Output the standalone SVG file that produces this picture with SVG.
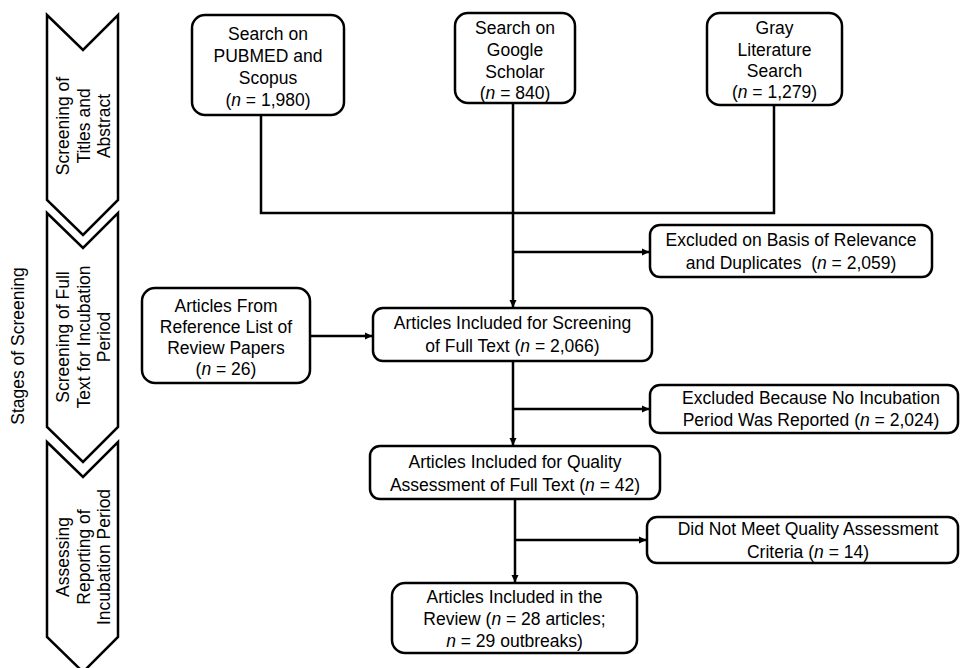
<svg xmlns="http://www.w3.org/2000/svg" width="960" height="668" viewBox="0 0 960 668">
<style>
.box{fill:#fff;stroke:#000;stroke-width:2.5}
.chev{fill:#fff;stroke:#000;stroke-width:2.5;stroke-linejoin:miter}
.t{font-family:"Liberation Sans",Arial,sans-serif;font-size:17.5px;fill:#000;text-anchor:middle}
.c{fill:none;stroke:#000;stroke-width:2.5}
</style>
<defs>
<marker id="ah" markerWidth="8" markerHeight="8" refX="7" refY="4" orient="auto" markerUnits="userSpaceOnUse">
<path d="M0,0.5 L7.5,4 L0,7.5 z" fill="#000"/>
</marker>
</defs>
<rect width="960" height="668" fill="#fff"/>

<g id="stages-label">
<text class="t" transform="translate(24,346) rotate(-90)" x="0" y="0">Stages of Screening</text>
</g>

<g id="stage1">
<polygon class="chev" points="47,15 83,50 118,15 118,200 83,235 47,200"/>
<g transform="translate(83,126) rotate(-90)">
<text class="t" x="0" y="-14">Screening of</text>
<text class="t" x="0" y="7">Titles and</text>
<text class="t" x="0" y="27">Abstract</text>
</g>
</g>

<g id="stage2">
<polygon class="chev" points="47,213 83,248 118,213 118,427 83,462 47,427"/>
<g transform="translate(83,337) rotate(-90)">
<text class="t" x="0" y="-14">Screening of Full</text>
<text class="t" x="0" y="7">Text for Incubation</text>
<text class="t" x="0" y="27">Period</text>
</g>
</g>

<g id="stage3">
<polygon class="chev" points="47,442 83,477 118,442 118,637 83,672 47,637"/>
<g transform="translate(83,557) rotate(-90)">
<text class="t" x="0" y="-14">Assessing</text>
<text class="t" x="0" y="7">Reporting of</text>
<text class="t" x="0" y="27">Incubation Period</text>
</g>
</g>

<g id="connectors">
<path class="c" d="M261,115 V213 H774 V105"/>
<path class="c" d="M513,103 V307" marker-end="url(#ah)"/>
<path class="c" d="M513,252 H649" marker-end="url(#ah)"/>
<path class="c" d="M310,336 H372" marker-end="url(#ah)"/>
<path class="c" d="M513,361 V445" marker-end="url(#ah)"/>
<path class="c" d="M513,409 H649" marker-end="url(#ah)"/>
<path class="c" d="M515,499 V582" marker-end="url(#ah)"/>
<path class="c" d="M515,540 H646" marker-end="url(#ah)"/>
</g>

<g id="pubmed">
<rect class="box" x="192" y="15" width="152" height="100" rx="13"/>
<text class="t" x="268" y="40">Search on</text>
<text class="t" x="268" y="62">PUBMED and</text>
<text class="t" x="268" y="84">Scopus</text>
<text class="t" x="268" y="106">(<tspan font-style="italic">n</tspan> = 1,980)</text>
</g>

<g id="google">
<rect class="box" x="455" y="13" width="120" height="90" rx="13"/>
<text class="t" x="515" y="34">Search on</text>
<text class="t" x="515" y="56">Google</text>
<text class="t" x="515" y="78">Scholar</text>
<text class="t" x="515" y="99">(<tspan font-style="italic">n</tspan> = 840)</text>
</g>

<g id="gray">
<rect class="box" x="707" y="13" width="135" height="92" rx="13"/>
<text class="t" x="774.5" y="34">Gray</text>
<text class="t" x="774.5" y="56">Literature</text>
<text class="t" x="774.5" y="77">Search</text>
<text class="t" x="774.5" y="98">(<tspan font-style="italic">n</tspan> = 1,279)</text>
</g>

<g id="excluded1">
<rect class="box" x="650" y="225" width="282" height="52" rx="10"/>
<text class="t" x="791" y="246">Excluded on Basis of Relevance</text>
<text class="t" x="791" y="269">and Duplicates&#160; (<tspan font-style="italic">n</tspan> = 2,059)</text>
</g>

<g id="reflist">
<rect class="box" x="142" y="288" width="168" height="95" rx="13"/>
<text class="t" x="226" y="312">Articles From</text>
<text class="t" x="226" y="333">Reference List of</text>
<text class="t" x="226" y="354">Review Papers</text>
<text class="t" x="226" y="375">(<tspan font-style="italic">n</tspan> = 26)</text>
</g>

<g id="fulltext">
<rect class="box" x="373" y="308" width="279" height="53" rx="10"/>
<text class="t" x="512.5" y="329">Articles Included for Screening</text>
<text class="t" x="512.5" y="352">of Full Text (<tspan font-style="italic">n</tspan> = 2,066)</text>
</g>

<g id="excluded2">
<rect class="box" x="650" y="385" width="308" height="48" rx="10"/>
<text class="t" x="811" y="404">Excluded Because No Incubation</text>
<text class="t" x="811" y="426">Period Was Reported (<tspan font-style="italic">n</tspan> = 2,024)</text>
</g>

<g id="quality">
<rect class="box" x="370" y="446" width="290" height="53" rx="10"/>
<text class="t" x="515" y="468">Articles Included for Quality</text>
<text class="t" x="515" y="491">Assessment of Full Text (<tspan font-style="italic">n</tspan> = 42)</text>
</g>

<g id="notmeet">
<rect class="box" x="647" y="517" width="311" height="46" rx="10"/>
<text class="t" x="808" y="535">Did Not Meet Quality Assessment</text>
<text class="t" x="808" y="558">Criteria (<tspan font-style="italic">n</tspan> = 14)</text>
</g>

<g id="review">
<rect class="box" x="392" y="583" width="245" height="70" rx="13"/>
<text class="t" x="514.5" y="603">Articles Included in the</text>
<text class="t" x="514.5" y="625">Review (<tspan font-style="italic">n</tspan> = 28 articles;</text>
<text class="t" x="514.5" y="647"><tspan font-style="italic">n</tspan> = 29 outbreaks)</text>
</g>
</svg>
